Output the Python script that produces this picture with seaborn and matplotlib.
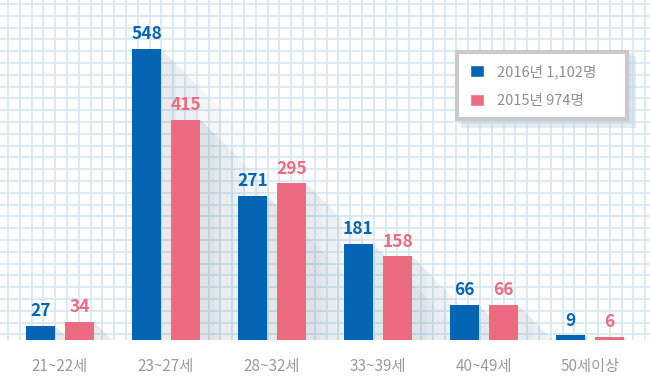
import numpy as np
import pandas as pd
import matplotlib.pyplot as plt
import seaborn as sns
from matplotlib.patches import Patch, Polygon, Rectangle

# Data
ages = ["21~22세", "23~27세", "28~32세", "33~39세", "40~49세", "50세이상"]
vals_2016 = [27, 548, 271, 181, 66, 9]
vals_2015 = [34, 415, 295, 158, 66, 6]
series = ["2016년 1,102명", "2015년 974명"]
colors = ["#0565b5", "#ec6b80"]

df = pd.DataFrame({
    "age": ages * 2,
    "value": vals_2016 + vals_2015,
    "year": [series[0]] * len(ages) + [series[1]] * len(ages),
})

sns.set_style("white")
plt.rcParams["font.family"] = ["Noto Sans CJK KR", "DejaVu Sans"]

fig = plt.figure(figsize=(6.5, 3.91), dpi=100)
fig.patch.set_facecolor("white")

# background grid panel (pixel coords)
bg = fig.add_axes([0, 1 - 340 / 391, 1, 340 / 391], zorder=0)
bg.set_xlim(0, 650)
bg.set_ylim(340, 0)
bg.set_facecolor("#e0effa")
for gx in np.arange(8, 650, 11.8):
    bg.axvline(gx, color="#d8e8f3", lw=1.3)
for gy in np.arange(4, 340, 11.8):
    bg.axhline(gy, color="#d8e8f3", lw=1.3)

# legend box + soft shadow
bg.add_patch(Rectangle((461, 56), 175, 72, facecolor="#c3d6e4", alpha=0.45, lw=0, zorder=4))
bg.add_patch(Rectangle((458, 53), 175, 71, facecolor="#c3d6e4", alpha=0.35, lw=0, zorder=4))
bg.add_patch(Rectangle((456.5, 51.5), 170, 67, facecolor="white", edgecolor="#c9c9c9",
                       lw=3, zorder=5))
bg.axis("off")

ax = fig.add_axes([0, 1 - 340 / 391, 1, 340 / 391], zorder=1)
ax.patch.set_alpha(0)

sns.barplot(data=df, x="age", y="value", hue="year", palette=colors,
            width=0.736, gap=0.255, saturation=1, ax=ax, legend=False,
            linewidth=0, edgecolor="none", zorder=3)

ax.set_xlim(-0.566, 5.566)
ax.set_ylim(0, 640)

# diagonal soft shadows computed from each bar
px_x = 650 / (5.566 + 0.566)
px_y = 340 / 640
for p in ax.patches:
    h = p.get_height()
    xr = p.get_x() + p.get_width()
    for L, a in [(85, 0.025), (60, 0.03), (35, 0.035), (15, 0.04)]:
        dx = L / px_x
        dy = min(L / px_y, h)
        poly = Polygon([(xr, h), (xr + dy * px_y / px_x, h - dy), (xr + dx, 0), (xr, 0)],
                       closed=True, facecolor="#4d6f8c", alpha=a, lw=0, zorder=2)
        ax.add_patch(poly)

# value labels
for i, c in enumerate(ax.containers):
    ax.bar_label(c, labels=[str(v) for v in (vals_2016 if i == 0 else vals_2015)],
                 padding=4, color=colors[i], fontsize=12.5, fontweight="bold")

ax.set_xlabel("")
ax.set_ylabel("")
ax.set_yticks([])
ax.tick_params(axis="x", length=0, pad=13, labelsize=11, labelcolor="#9a9a9a")
sns.despine(ax=ax, left=True, top=True, right=True, bottom=True)

# legend (entries only, box drawn above)
handles = [Patch(facecolor=colors[0]), Patch(facecolor=colors[1])]
leg = ax.legend(handles, series, loc="upper left",
                bbox_to_anchor=(466 / 650, 1 - 60 / 391), bbox_transform=fig.transFigure,
                frameon=False, fontsize=10.5, labelcolor="#8f8f8f",
                handlelength=0.9, handleheight=0.9, handletextpad=0.9,
                labelspacing=1.0, borderpad=0.3, borderaxespad=0)
leg.set_zorder(6)

fig.savefig("out.png", dpi=100, facecolor="white")
